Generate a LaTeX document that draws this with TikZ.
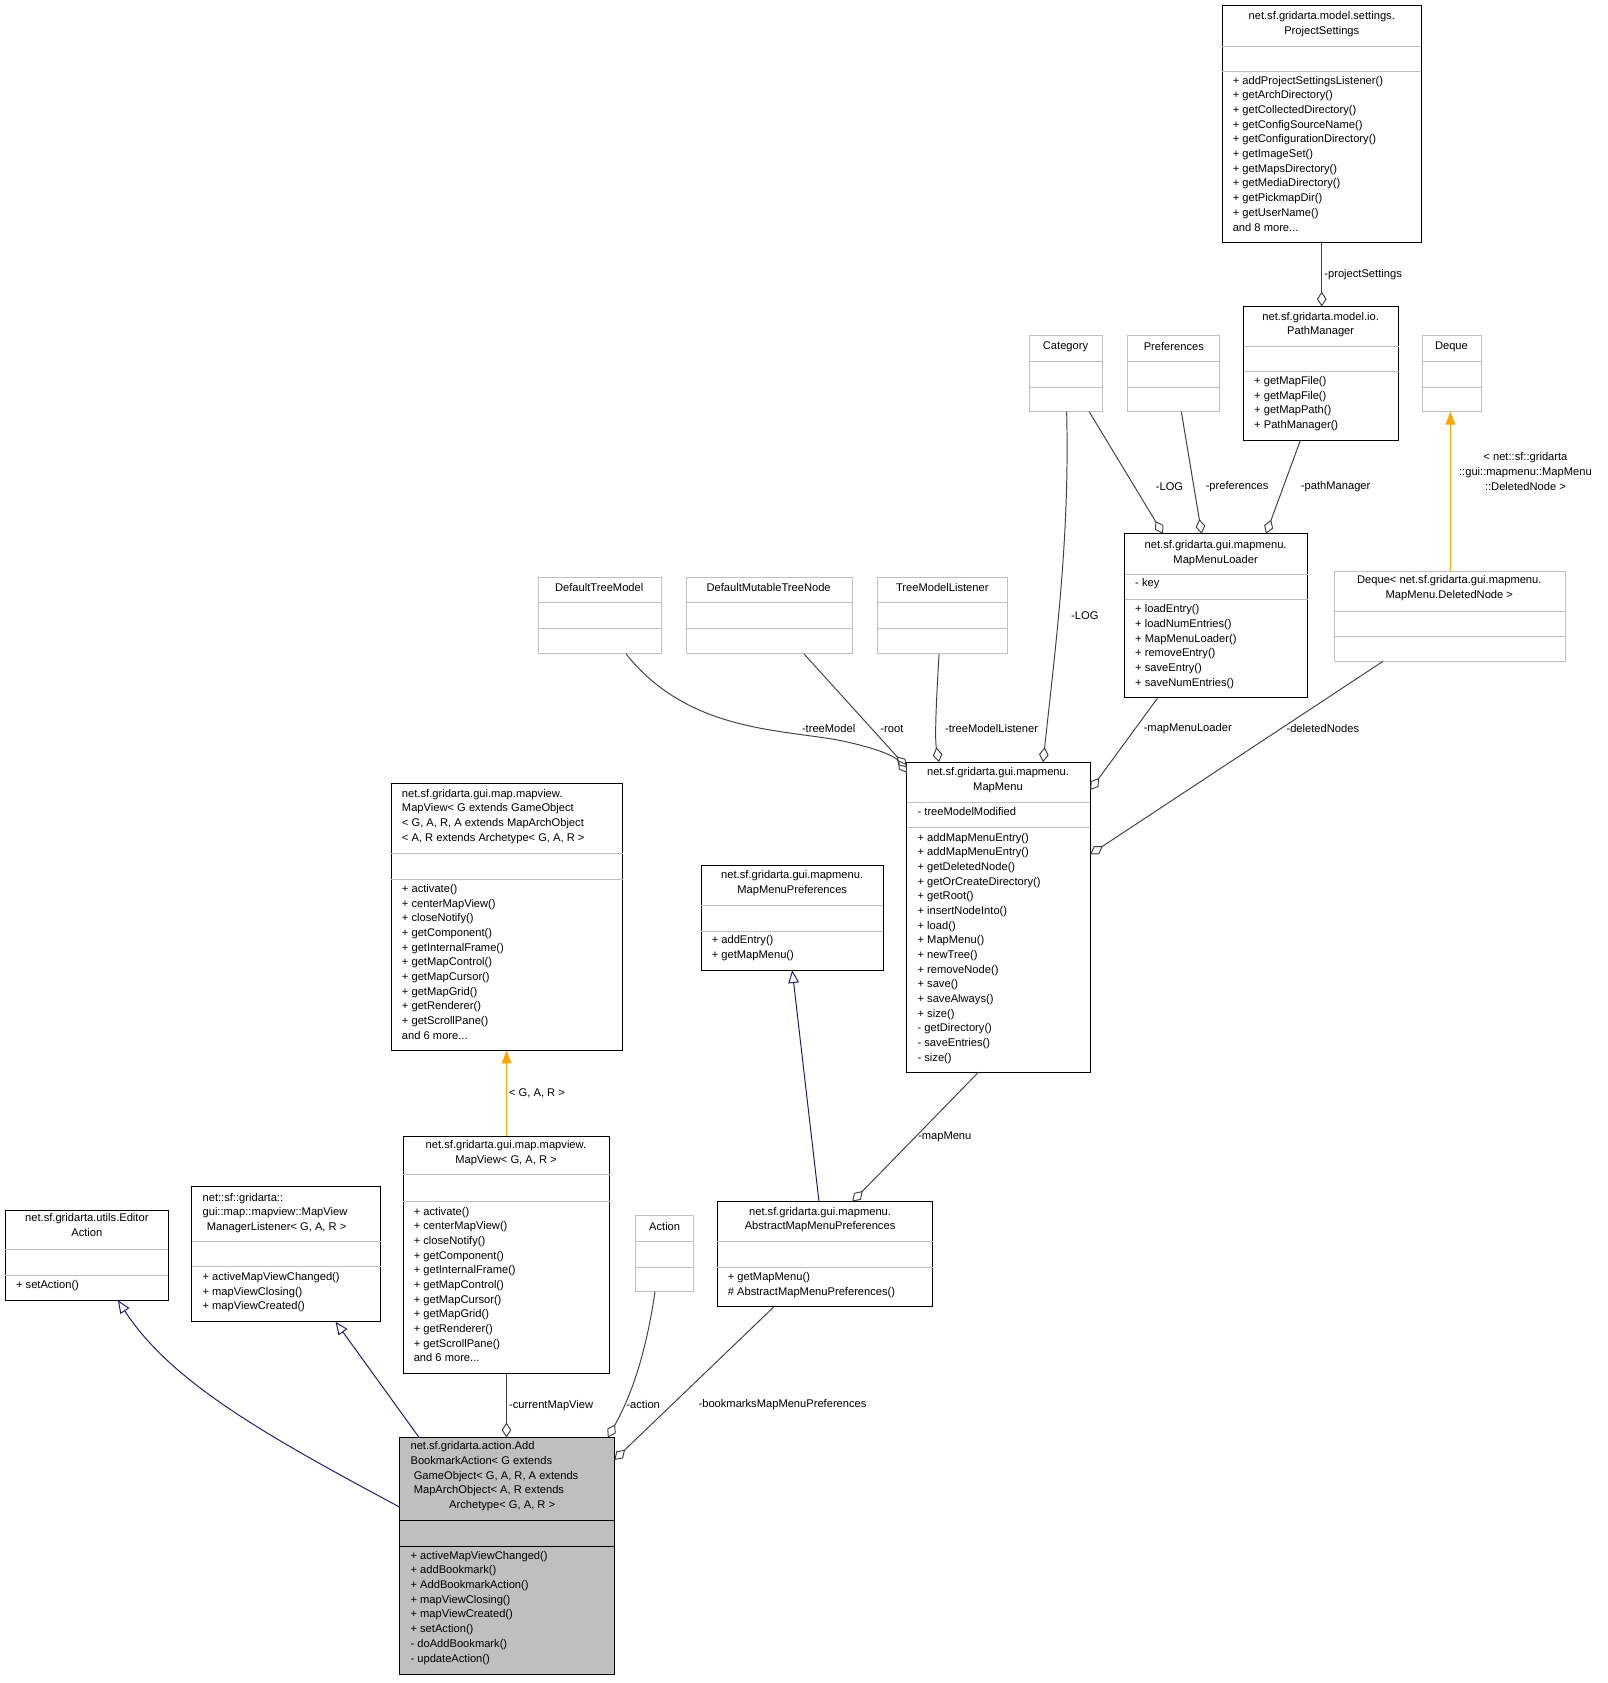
\documentclass[tikz,border=0pt]{standalone}
\usepackage{fontspec}
\setmainfont{Liberation Sans}
\usetikzlibrary{arrows.meta,calc}
\definecolor{navy}{HTML}{191970}
\definecolor{orng}{HTML}{FFA500}
\definecolor{edge}{HTML}{404040}
\definecolor{lgray}{HTML}{BFBFBF}
\definecolor{fgray}{HTML}{BFBFBF}
\tikzset{
 box/.style={draw=black,line width=0.9pt,inner sep=0,outer sep=0,anchor=north west},
 gbox/.style={box,draw=lgray},
 txt/.style={inner sep=0,outer sep=0,font=\fontsize{10.4}{13.7}\selectfont,align=left,anchor=north west},
 ctxt/.style={txt,align=center,anchor=north},
 lbl/.style={inner sep=0,font=\fontsize{10.4}{13.7}\selectfont,align=center},
 inh/.style={draw=navy,line width=0.9pt,-{Triangle[open,length=12pt,width=10pt]}},
 tmpl/.style={draw=orng,line width=0.9pt,-{Triangle[length=12pt,width=9pt]}},
 agg/.style={draw=edge,line width=0.9pt,-{Diamond[open,length=14pt,width=9pt]}},
}
\newcommand{\ubox}[7][box]{% style,name,x1,y1,x2,y2,seps
 \node[#1,minimum width=#5-#3,minimum height=#6-#4] (#2) at (#3,#4) {};
 \foreach \s in {#7} \draw[#1/.try,draw=\ifx#1box black\else lgray\fi,line width=0.9pt] (#3,\s) -- (#5,\s);}
\begin{document}
\begin{tikzpicture}[x=1pt,y=-1pt]
\useasboundingbox (0,0) rectangle (1500,1570);
% boxes
\ubox{editor}{5}{1129}{157}{1213}{1166,1190}
\node[ctxt] at (81,1132) {net.sf.gridarta.utils.Editor\\Action};
\node[txt] at (15,1194) {+ setAction()};

\ubox{mvml}{179}{1107}{355}{1233}{1158,1181}
\node[txt] at (189,1113) {net::sf::gridarta::\\gui::map::mapview::MapView\\\hspace*{4pt}ManagerListener< G, A, R >};
\node[txt] at (189,1187) {+ activeMapViewChanged()\\+ mapViewClosing()\\+ mapViewCreated()};

\ubox{mvgar}{376}{1060}{569}{1281}{1096,1121}
\node[ctxt] at (472,1064) {net.sf.gridarta.gui.map.mapview.\\MapView< G, A, R >};
\node[txt] at (386,1126) {+ activate()\\+ centerMapView()\\+ closeNotify()\\+ getComponent()\\+ getInternalFrame()\\+ getMapControl()\\+ getMapCursor()\\+ getMapGrid()\\+ getRenderer()\\+ getScrollPane()\\and 6 more...};

\ubox[gbox]{action}{593}{1134}{647}{1205}{1158,1182}
\node[ctxt] at (620,1140) {Action};

\ubox{ammp}{669}{1121}{870}{1219}{1158,1182}
\node[ctxt] at (765,1126) {net.sf.gridarta.gui.mapmenu.\\AbstractMapMenuPreferences};
\node[txt] at (679,1187) {+ getMapMenu()\\\# AbstractMapMenuPreferences()};

\node[box,fill=fgray,minimum width=200,minimum height=221] (main) at (373,1341) {};
\draw[line width=0.9pt] (373,1418) -- (573,1418) (373,1443) -- (573,1443);
\node[txt] at (383,1345) {net.sf.gridarta.action.Add\\BookmarkAction< G extends\\\hspace*{3pt}GameObject< G, A, R, A extends\\\hspace*{3pt}MapArchObject< A, R extends\\\hspace*{36pt}Archetype< G, A, R >};
\node[txt] at (383,1447) {+ activeMapViewChanged()\\+ addBookmark()\\+ AddBookmarkAction()\\+ mapViewClosing()\\+ mapViewCreated()\\+ setAction()\\- doAddBookmark()\\- updateAction()};

\ubox{mvbig}{365}{731}{581}{980}{796,820}
\node[txt] at (375,736) {net.sf.gridarta.gui.map.mapview.\\MapView< G extends GameObject\\< G, A, R, A extends MapArchObject\\< A, R extends Archetype< G, A, R >};
\node[txt] at (375,825) {+ activate()\\+ centerMapView()\\+ closeNotify()\\+ getComponent()\\+ getInternalFrame()\\+ getMapControl()\\+ getMapCursor()\\+ getMapGrid()\\+ getRenderer()\\+ getScrollPane()\\and 6 more...};

\ubox{mmp}{654}{807}{824}{905}{845,869}
\node[ctxt] at (739,812) {net.sf.gridarta.gui.mapmenu.\\MapMenuPreferences};
\node[txt] at (664,873) {+ addEntry()\\+ getMapMenu()};

\ubox{mapmenu}{846}{711}{1017}{1000}{749,772}
\node[ctxt] at (931,716) {net.sf.gridarta.gui.mapmenu.\\MapMenu};
\node[txt] at (856,753) {- treeModelModified};
\node[txt] at (856,777) {+ addMapMenuEntry()\\+ addMapMenuEntry()\\+ getDeletedNode()\\+ getOrCreateDirectory()\\+ getRoot()\\+ insertNodeInto()\\+ load()\\+ MapMenu()\\+ newTree()\\+ removeNode()\\+ save()\\+ saveAlways()\\+ size()\\- getDirectory()\\- saveEntries()\\- size()};

\ubox[gbox]{dtm}{502}{539}{617}{610}{562,586}
\node[ctxt] at (559,544) {DefaultTreeModel};
\ubox[gbox]{dmtn}{640}{539}{795}{610}{562,586}
\node[ctxt] at (717,544) {DefaultMutableTreeNode};
\ubox[gbox]{tml}{819}{539}{940}{610}{562,586}
\node[ctxt] at (879,544) {TreeModelListener};
\ubox[gbox]{category}{960}{313}{1028}{384}{337,361}
\node[ctxt] at (994,319) {Category};
\ubox[gbox]{prefs}{1052}{313}{1138}{384}{337,361}
\node[ctxt] at (1095,319) {Preferences};
\ubox[gbox]{deque}{1327}{313}{1382}{384}{337,361}
\node[ctxt] at (1354,319) {Deque};

\ubox{pathm}{1160}{286}{1305}{411}{323,347}
\node[ctxt] at (1232,291) {net.sf.gridarta.model.io.\\PathManager};
\node[txt] at (1170,351) {+ getMapFile()\\+ getMapFile()\\+ getMapPath()\\+ PathManager()};

\ubox{projs}{1140}{5}{1326}{226}{43,67}
\node[ctxt] at (1233,11) {net.sf.gridarta.model.settings.\\ProjectSettings};
\node[txt] at (1150,71) {+ addProjectSettingsListener()\\+ getArchDirectory()\\+ getCollectedDirectory()\\+ getConfigSourceName()\\+ getConfigurationDirectory()\\+ getImageSet()\\+ getMapsDirectory()\\+ getMediaDirectory()\\+ getPickmapDir()\\+ getUserName()\\and 8 more...};

\ubox{mml}{1049}{498}{1220}{651}{536,559}
\node[ctxt] at (1134,504) {net.sf.gridarta.gui.mapmenu.\\MapMenuLoader};
\node[txt] at (1059,540) {- key};
\node[txt] at (1059,564) {+ loadEntry()\\+ loadNumEntries()\\+ MapMenuLoader()\\+ removeEntry()\\+ saveEntry()\\+ saveNumEntries()};

\ubox[gbox]{dequedn}{1245}{533}{1460}{617}{570,594}
\node[ctxt] at (1352,537) {Deque< net.sf.gridarta.gui.mapmenu.\\MapMenu.DeletedNode >};

% edges
\draw[inh] ([yshift=-65pt]main.north west) .. controls (250,1340) and (160,1290) .. ([xshift=105pt]editor.south west);
\draw[inh] ([xshift=18pt]main.north west) -- ([xshift=134pt]mvml.south west);
\draw[agg] (mvgar.south) -- node[lbl,right,xshift=2pt]{-currentMapView} (mvgar.south |- main.north);
\draw[agg] ([xshift=18pt]action.south west) .. controls (603,1260) and (590,1300) .. ([xshift=-6pt]main.north east);
\node[lbl] at (600,1310) {-action};
\draw[agg] ([xshift=53pt]ammp.south west) -- ([yshift=-21pt]main.north east);
\node[lbl] at (730,1310) {-bookmarksMapMenuPreferences};
\draw[tmpl] (mvgar.north) -- node[lbl,right,xshift=2pt]{< G, A, R >} (mvgar.north |- mvbig.south);
\draw[inh] ([xshift=95pt]ammp.north west) -- ([xshift=85pt]mmp.south west);
\draw[agg] ([xshift=67pt]mapmenu.south west) -- node[lbl,right,xshift=2pt]{-mapMenu} ([xshift=126pt]ammp.north west);
\draw[agg] ([xshift=82pt]dtm.south west) .. controls (640,680) and (720,680) .. (780,690) .. controls (815,697) and (835,705) .. ([yshift=-10pt]mapmenu.north west);
\node[lbl] at (773,680) {-treeModel};
\draw[agg] ([xshift=110pt]dmtn.south west) -- ([yshift=-5pt]mapmenu.north west);
\node[lbl] at (832,680) {-root};
\draw[agg] ([xshift=57pt]tml.south west) .. controls (873,660) and (872,690) .. ([xshift=30pt]mapmenu.north west);
\node[lbl] at (925,680) {-treeModelListener};
\draw[agg] ([xshift=35pt]category.south west) .. controls (998,500) and (985,600) .. ([xshift=127pt]mapmenu.north west);
\node[lbl] at (1012,574) {-LOG};
\draw[agg] ([xshift=56pt]category.south west) -- ([xshift=36pt]mml.north west);
\node[lbl] at (1091,454) {-LOG};
\draw[agg] ([xshift=50pt]prefs.south west) -- ([xshift=72pt]mml.north west);
\node[lbl] at (1154,454) {-preferences};
\draw[agg] ([xshift=53pt]pathm.south west) -- ([xshift=132pt]mml.north west);
\node[lbl] at (1246,454) {-pathManager};
\draw[agg] ([xshift=93pt]projs.south west) -- node[lbl,right,xshift=2pt]{-projectSettings} ([xshift=73pt]pathm.north west);
\draw[agg] ([xshift=31pt]mml.south west) -- ([yshift=-26pt]mapmenu.north east);
\node[lbl] at (1108,680) {-mapMenuLoader};
\draw[agg] ([xshift=45pt]dequedn.north west |- dequedn.south) -- ([yshift=-86pt]mapmenu.north east);
\node[lbl] at (1234,680) {-deletedNodes};
\draw[tmpl] (1353,533) coordinate (dqt) -- (dqt |- deque.south);
\node[lbl] at (1423,440) {< net::sf::gridarta\\::gui::mapmenu::MapMenu\\::DeletedNode >};
\end{tikzpicture}
\end{document}
